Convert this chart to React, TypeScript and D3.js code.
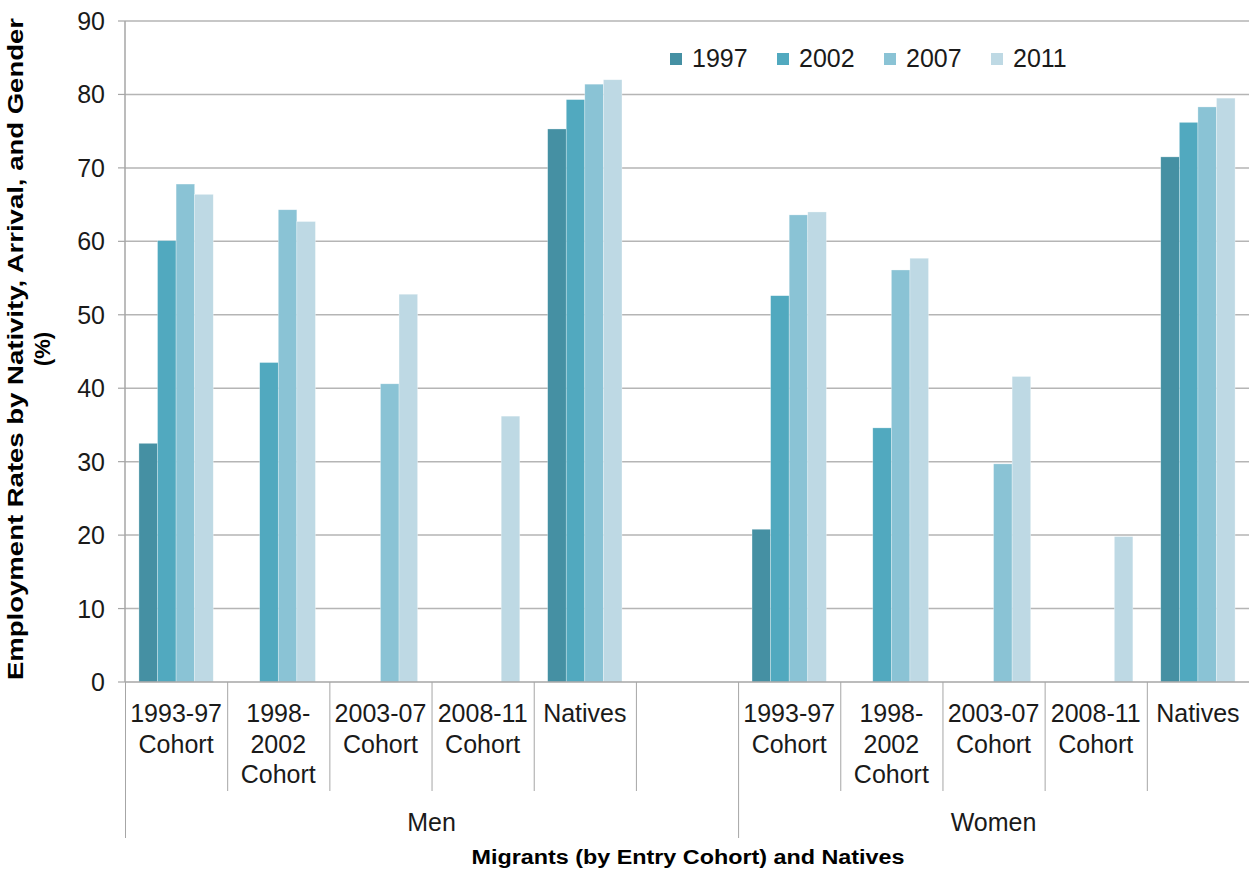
import React from "react";
import * as d3 from "d3";

const W = 1249;
const H = 870;

const series = ["1997", "2002", "2007", "2011"];
const colors = ["#4590a3", "#51a9bf", "#8ac3d5", "#bed9e4"];

const slotLabels: string[][] = [
  ["1993-97", "Cohort"],
  ["1998-", "2002", "Cohort"],
  ["2003-07", "Cohort"],
  ["2008-11", "Cohort"],
  ["Natives"],
  [],
  ["1993-97", "Cohort"],
  ["1998-", "2002", "Cohort"],
  ["2003-07", "Cohort"],
  ["2008-11", "Cohort"],
  ["Natives"],
];

const groups = ["Men", "Women"];

// values per slot: [1997, 2002, 2007, 2011]
const v1997 = [32.5, null, null, null, 75.3, null, 20.8, null, null, null, 71.5];
const v2002 = [60.1, 43.5, null, null, 79.3, null, 52.6, 34.6, null, null, 76.2];
const v2007 = [67.8, 64.3, 40.6, null, 81.4, null, 63.6, 56.1, 29.7, null, 78.3];
const v2011 = [66.4, 62.7, 52.8, 36.2, 82.0, null, 64.0, 57.7, 41.6, 19.8, 79.5];
const values = [v1997, v2002, v2007, v2011];

const yTicks = [0, 10, 20, 30, 40, 50, 60, 70, 80, 90];

export default function App() {
  const left = 125;
  const right = 1249;
  const top = 21;
  const bottom = 682;
  const slots = slotLabels.map((_, i) => String(i));
  const x = d3.scaleBand<string>().domain(slots).range([left, right]).padding(0);
  const inner = d3
    .scaleBand<string>()
    .domain(series)
    .range([0, x.bandwidth()])
    .paddingInner(0)
    .paddingOuter(0.75);
  const y = d3.scaleLinear().domain([0, 90]).range([bottom, top]);

  const font = "'Liberation Sans', Arial, sans-serif";
  const grid = "#b5b5b5";
  const sep = "#a6a6a6";

  const menCenter = (left + (x("6") as number)) / 2;
  const womenCenter = ((x("6") as number) + right) / 2;

  return (
    <svg
      width={W}
      height={H}
      style={{ position: "absolute", left: 0, top: 0, background: "#fff" }}
      fontFamily={font}
    >
      {/* gridlines */}
      {yTicks.filter((t) => t > 0).map((t) => (
        <line key={"g" + t} x1={left} x2={right} y1={y(t)} y2={y(t)} stroke={grid} strokeWidth={1.5} />
      ))}
      {/* ticks and labels */}
      {yTicks.map((t) => (
        <g key={"t" + t}>
          <line x1={118} x2={left} y1={y(t)} y2={y(t)} stroke={sep} strokeWidth={1.2} />
          <text x={105} y={y(t) + 9} textAnchor="end" fontSize={25} fill="#1a1a1a">
            {t}
          </text>
        </g>
      ))}
      {/* bars */}
      {values.map((vals, si) =>
        vals.map((v, ci) =>
          v == null ? null : (
            <rect
              key={`b${si}-${ci}`}
              x={(x(String(ci)) as number) + (inner(series[si]) as number)}
              y={y(v)}
              width={inner.bandwidth()}
              height={bottom - y(v)}
              fill={colors[si]}
              stroke="#ffffff"
              strokeOpacity={0.5}
              strokeWidth={0.6}
            />
          )
        )
      )}
      {/* axes */}
      <line x1={left} x2={left} y1={top} y2={bottom} stroke={sep} strokeWidth={1.5} />
      <line x1={left} x2={right} y1={bottom} y2={bottom} stroke={sep} strokeWidth={1.5} />
      {/* category separators */}
      {slots.map((s, i) => {
        const xx = x(s) as number;
        const long = i === 0 || i === 6;
        return (
          <line
            key={"s" + s}
            x1={xx + 0.5}
            x2={xx + 0.5}
            y1={bottom}
            y2={long ? 838 : 791}
            stroke={sep}
            strokeWidth={1}
          />
        );
      })}
      {/* category labels */}
      {slotLabels.map((lines, i) => {
        const cx = (x(String(i)) as number) + x.bandwidth() / 2;
        return lines.map((ln, li) => (
          <text
            key={`c${i}-${li}`}
            x={cx}
            y={722 + li * 30.5}
            textAnchor="middle"
            fontSize={25}
            fill="#1a1a1a"
          >
            {ln}
          </text>
        ));
      })}
      {/* group labels */}
      {groups.map((g, i) => (
        <text
          key={"gr" + g}
          x={i === 0 ? menCenter : womenCenter}
          y={831}
          textAnchor="middle"
          fontSize={25}
          fill="#1a1a1a"
        >
          {g}
        </text>
      ))}
      {/* x title */}
      <text
        x={688}
        y={864}
        textAnchor="middle"
        fontSize={20}
        fontWeight="bold"
        fontFamily="'Liberation Sans Narrow', 'Liberation Sans', Arial, sans-serif"
        textLength={433}
        lengthAdjust="spacingAndGlyphs"
        fill="#000"
      >
        Migrants (by Entry Cohort) and Natives
      </text>
      {/* y title */}
      <g transform="translate(0,349) rotate(-90)">
        <text
          x={0}
          y={23}
          textAnchor="middle"
          fontSize={22}
          fontWeight="bold"
          textLength={662}
          lengthAdjust="spacingAndGlyphs"
          fill="#000"
        >
          Employment Rates by Nativity, Arrival,  and Gender
        </text>
        <text x={0} y={50} textAnchor="middle" fontSize={22} fontWeight="bold" fill="#000">
          (%)
        </text>
      </g>
      {/* legend */}
      {series.map((s, i) => {
        const lx = 670 + i * 107;
        return (
          <g key={"l" + s}>
            <rect x={lx} y={53} width={12} height={12} fill={colors[i]} />
            <text x={lx + 22} y={67} fontSize={25} fill="#1a1a1a">
              {s}
            </text>
          </g>
        );
      })}
    </svg>
  );
}
